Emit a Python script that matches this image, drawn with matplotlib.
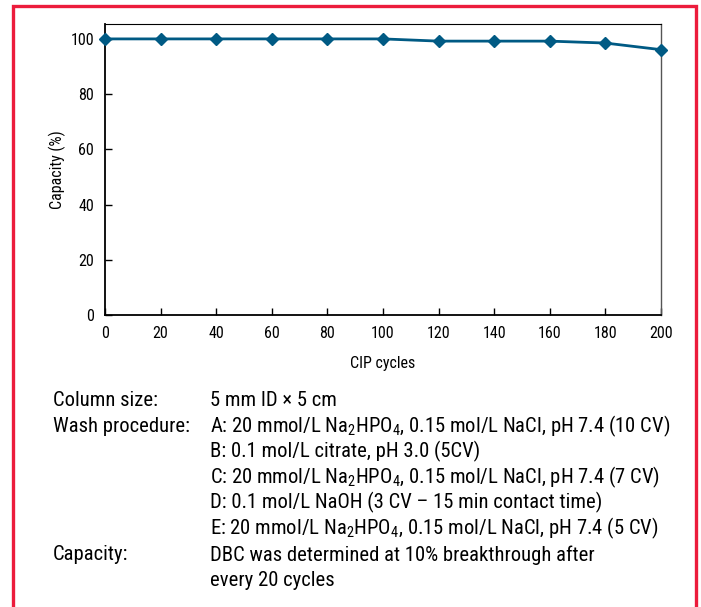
import numpy as np
import matplotlib
matplotlib.use("Agg")
import matplotlib.pyplot as plt
from matplotlib.patches import Rectangle

FAM = 'Roboto Condensed'
plt.rcParams['font.family'] = FAM
plt.rcParams['mathtext.fontset'] = 'custom'
plt.rcParams['mathtext.rm'] = FAM
plt.rcParams['mathtext.it'] = FAM
plt.rcParams['mathtext.bf'] = FAM
plt.rcParams['mathtext.default'] = 'rm'

# data
cycles = [0, 20, 40, 60, 80, 100, 120, 140, 160, 180, 200]
capacity = [100, 100, 100, 100, 100, 100, 99.2, 99.2, 99.2, 98.5, 96.1]
x_ticks = [0, 20, 40, 60, 80, 100, 120, 140, 160, 180, 200]
y_ticks = [0, 20, 40, 60, 80, 100]

labels = ['Column size:', 'Wash procedure:', '', '', '', '', 'Capacity:', '']
details = [
    '5 mm ID \u00d7 5 cm',
    r'A: 20 mmol/L Na$_2$HPO$_4$, 0.15 mol/L NaCl, pH 7.4 (10 CV)',
    'B: 0.1 mol/L citrate, pH 3.0 (5CV)',
    r'C: 20 mmol/L Na$_2$HPO$_4$, 0.15 mol/L NaCl, pH 7.4 (7 CV)',
    'D: 0.1 mol/L NaOH (3 CV \u2013 15 min contact time)',
    r'E: 20 mmol/L Na$_2$HPO$_4$, 0.15 mol/L NaCl, pH 7.4 (5 CV)',
    'DBC was determined at 10% breakthrough after',
    'every 20 cycles',
]

W, H = 701, 607
fig = plt.figure(figsize=(W / 100, H / 100), dpi=100)

# red frame (bottom edge runs off the picture)
fig.patches.append(Rectangle((13.5 / W, -0.1), (695.5 - 13.5) / W, 1.1 - 6 / H,
                             transform=fig.transFigure, fill=False,
                             edgecolor='#EC1C3C', linewidth=2.4))

ax = fig.add_axes([105 / W, 1 - 315 / H, (661 - 105) / W, (315 - 24) / H])
ax.plot(cycles, capacity, color='#005A84', linewidth=2, marker='D',
        markersize=6.5, clip_on=False, zorder=5)
ax.set_xlim(0, 200)
ax.set_ylim(0, 105.4)
ax.set_xticks(x_ticks)
ax.set_yticks(y_ticks)
ax.tick_params(direction='in', length=5, width=1, labelsize=11.5, pad=8)
ax.spines['left'].set_linewidth(1.3)
ax.spines['bottom'].set_linewidth(1.3)
ax.spines['top'].set_linewidth(0.8)
ax.spines['right'].set_color('#555555')
ax.spines['right'].set_linewidth(1.0)
ax.set_xlabel('CIP cycles', fontsize=11.5, labelpad=11)
ax.set_ylabel('Capacity (%)', fontsize=11.5, labelpad=3)

# size the notes so the longest line spans the same width as the reference
renderer = fig.canvas.get_renderer()
probe = fig.text(0, 0, details[1], fontsize=10)
w10 = probe.get_window_extent(renderer).width
probe.remove()
note_size = 10 * 462 / w10

ys = [401, 426.5, 451.5, 477, 502, 528, 555, 581]
note_texts = []
for lab, det, y in zip(labels, details, ys):
    if lab:
        fig.text(53 / W, 1 - y / H, lab, fontsize=note_size, va='center')
    note_texts.append(fig.text(210 / W, 1 - y / H, det, fontsize=note_size, va='center'))

# this font draws the DBC line a bit left of its anchor; line it up with the "D:" line
fig.canvas.draw()
img = np.asarray(fig.canvas.buffer_rgba())[:, :, :3].astype(int)


def first_ink(yc):
    band = img[int(yc) - 6:int(yc) + 6, 160:320].sum(axis=2)
    cols = np.where((band < 350).any(axis=0))[0]
    return 160 + cols[0] if len(cols) else None


ref_x, dbc_x = first_ink(ys[4]), first_ink(ys[6])
if ref_x is not None and dbc_x is not None:
    t = note_texts[6]
    t.set_x(t.get_position()[0] + (ref_x - dbc_x) / W)

fig.savefig('out.png', dpi=100)
